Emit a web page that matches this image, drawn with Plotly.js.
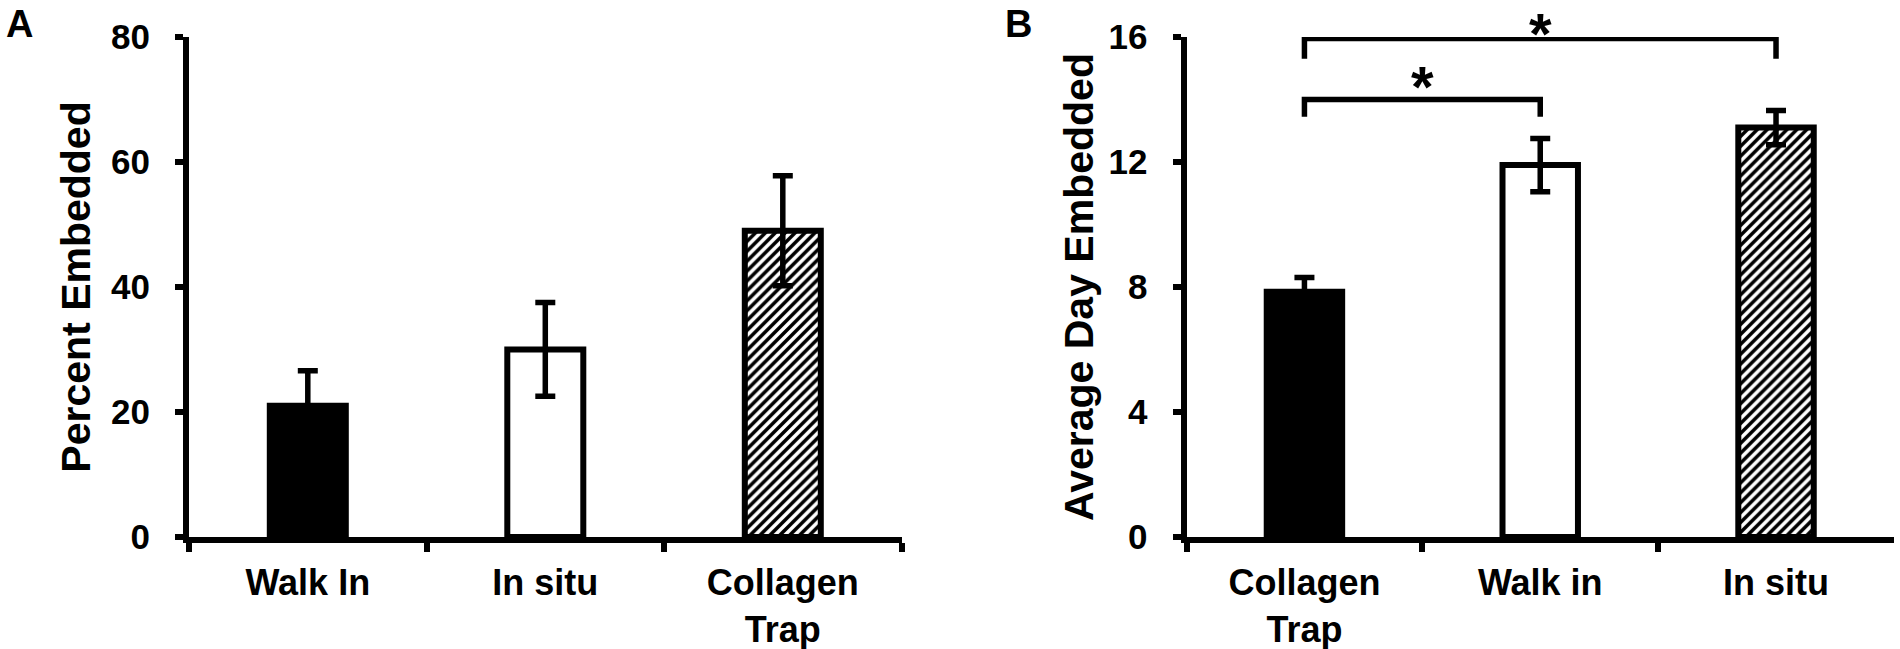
<!DOCTYPE html>
<html>
<head>
<meta charset="utf-8">
<script src="https://cdn.plot.ly/plotly-3.0.1.min.js"></script>
<style>html,body{margin:0;padding:0;background:#fff;}#chart{width:1900px;height:649px;}</style>
</head>
<body>
<div id="chart"></div>
<script>
// ---- Panel A data ----
const categoriesA = ['Walk In', 'In situ', 'Collagen<br>Trap'];
const percentEmbedded = [21.0, 30.0, 49.0];
const percentEmbeddedErr = [5.6, 7.5, 8.8];
const yTicksA = [0, 20, 40, 60, 80];

// ---- Panel B data ----
const categoriesB = ['Collagen<br>Trap', 'Walk in', 'In situ'];
const averageDayEmbedded = [7.85, 11.9, 13.1];
const averageDayEmbeddedErr = [0.45, 0.85, 0.55];
const yTicksB = [0, 4, 8, 12, 16];

// ---- Significance brackets (panel B, category index / data units) ----
const bracketFrom = [0, 0];
const bracketTo = [1, 2];
const bracketTop = [14.0, 15.95];
const bracketFoot = [13.45, 15.3];
const bracketLabel = ['*', '*'];
const starLevel = [14.4, 17.18];
const starAnchor = ['middle', 'top'];

// ---- styles ----
const fillA = ['black', 'white', 'white'];
const hatchA = ['', '', '/'];
const fillB = ['black', 'white', 'white'];
const hatchB = ['', '', '/'];

const FONT = 'Liberation Sans, Arial, sans-serif';
const yDomain = [0.1726, 0.943];
const rangeA = [0, 80];
const rangeB = [0, 16];

function barTraces(cats, vals, errs, fill, hatch, xa, ya) {
  return cats.map(function (c, i) {
    const marker = {color: fill[i], line: {color: 'black', width: 6}};
    if (hatch[i]) {
      marker.pattern = {shape: hatch[i], fgcolor: 'black', bgcolor: 'white', size: 7, solidity: 0.5};
    }
    return {
      type: 'bar', x: [c], y: [vals[i]], xaxis: xa, yaxis: ya,
      marker: marker,
      error_y: {type: 'data', array: [errs[i]], visible: true, color: 'black', thickness: 5.5, width: 10},
      showlegend: false, hoverinfo: 'x+y'
    };
  });
}

const data = []
  .concat(barTraces(categoriesA, percentEmbedded, percentEmbeddedErr, fillA, hatchA, 'x', 'y'))
  .concat(barTraces(categoriesB, averageDayEmbedded, averageDayEmbeddedErr, fillB, hatchB, 'x2', 'y2'));

function xAxis(domain, anchor, cats) {
  return {
    domain: domain, anchor: anchor, type: 'category',
    categoryorder: 'array', categoryarray: cats,
    showline: true, linecolor: 'black', linewidth: 6,
    ticks: 'outside', tickson: 'boundaries', ticklen: 9, tickwidth: 6, tickcolor: 'black',
    ticklabelstandoff: 9,
    showgrid: false, zeroline: false,
    tickfont: {family: FONT, size: 36, color: 'black', weight: 'bold'},
    fixedrange: true
  };
}
function yAxis(domain, anchor, range, ticks, title, standoff) {
  return {
    domain: domain, anchor: anchor, range: range,
    tickvals: ticks, ticktext: ticks.map(String),
    showline: true, linecolor: 'black', linewidth: 6,
    ticks: 'outside', ticklen: 8, tickwidth: 6, tickcolor: 'black',
    ticklabelstandoff: 18,
    showgrid: false, zeroline: false,
    tickfont: {family: FONT, size: 35, color: 'black', weight: 'bold'},
    title: {text: title, font: {family: FONT, size: 41, color: 'black', weight: 'bold'}, standoff: standoff},
    fixedrange: true
  };
}

function toPaperY(v, range) {
  return yDomain[0] + (v - range[0]) / (range[1] - range[0]) * (yDomain[1] - yDomain[0]);
}

const shapes = [];
const annotations = [
  {text: 'A', xref: 'paper', yref: 'paper', x: 0.002, y: 0.998, xanchor: 'left', yanchor: 'top',
   showarrow: false, font: {family: FONT, size: 38, color: 'black', weight: 'bold'}},
  {text: 'B', xref: 'paper', yref: 'paper', x: 0.528, y: 0.998, xanchor: 'left', yanchor: 'top',
   showarrow: false, font: {family: FONT, size: 38, color: 'black', weight: 'bold'}}
];
for (let i = 0; i < bracketFrom.length; i++) {
  const a = bracketFrom[i], b = bracketTo[i];
  shapes.push({
    type: 'path', xref: 'x2', yref: 'y2',
    path: 'M ' + a + ',' + bracketFoot[i] + ' L ' + a + ',' + bracketTop[i] +
          ' L ' + b + ',' + bracketTop[i] + ' L ' + b + ',' + bracketFoot[i],
    line: {color: 'black', width: 5.5}
  });
  annotations.push({
    text: bracketLabel[i], xref: 'x2', yref: 'paper', x: (a + b) / 2,
    y: Math.min(1, toPaperY(starLevel[i], rangeB)),
    xanchor: 'center', yanchor: starAnchor[i], showarrow: false, borderpad: 0,
    font: {family: FONT, size: 58, color: 'black', weight: 'bold'}
  });
}

const layout = {
  width: 1900, height: 649,
  margin: {l: 0, r: 0, t: 0, b: 0},
  paper_bgcolor: 'white', plot_bgcolor: 'white',
  barmode: 'overlay',
  bargap: 0.68,
  xaxis: xAxis([0.0995, 0.4745], 'y', categoriesA),
  yaxis: yAxis(yDomain, 'x', rangeA, yTicksA, 'Percent Embedded', 10),
  xaxis2: xAxis([0.6245, 0.9968], 'y2', categoriesB),
  yaxis2: yAxis(yDomain, 'x2', rangeB, yTicksB, 'Average Day Embedded', 4),
  shapes: shapes,
  annotations: annotations,
  font: {family: FONT, color: 'black'}
};

Plotly.newPlot('chart', data, layout, {displayModeBar: false, staticPlot: true});
</script>
</body>
</html>
